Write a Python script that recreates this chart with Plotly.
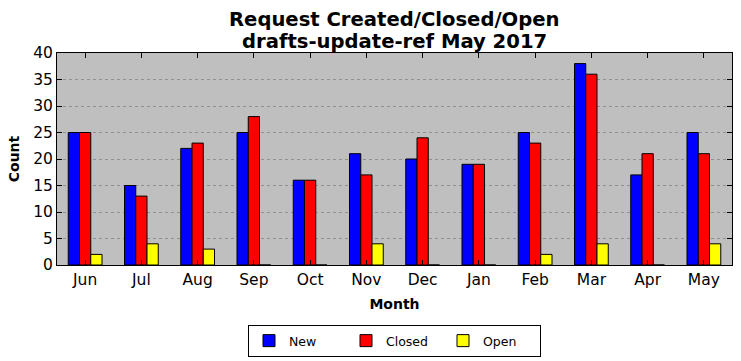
import plotly.graph_objects as go

months = ["Jun", "Jul", "Aug", "Sep", "Oct", "Nov", "Dec", "Jan", "Feb", "Mar", "Apr", "May"]
new_vals = [25, 15, 22, 25, 16, 21, 20, 19, 25, 38, 17, 25]
closed_vals = [25, 13, 23, 28, 16, 17, 24, 19, 23, 36, 21, 21]
open_vals = [2, 4, 3, 0, 0, 4, 0, 0, 2, 4, 0, 4]
y_ticks = [0, 5, 10, 15, 20, 25, 30, 35, 40]

fig = go.Figure()
for name, vals, col in [("New", new_vals, "#0000ff"), ("Closed", closed_vals, "#ff0000"), ("Open", open_vals, "#ffff00")]:
    fig.add_trace(go.Bar(x=months, y=vals, name=name,
                         marker=dict(color=col, line=dict(color="black", width=1))))

fig.update_layout(
    width=741, height=361,
    margin=dict(l=57, r=9, t=53, b=96, autoexpand=False),
    barmode="group", bargap=0.4, bargroupgap=0,
    plot_bgcolor="#bfbfbf", paper_bgcolor="white",
    font=dict(family="DejaVu Sans", color="black"),
    xaxis=dict(title=dict(text="<b>Month</b>", font=dict(size=14), standoff=11),
               showline=True, linecolor="black", linewidth=1, mirror="ticks",
               ticks="inside", ticklen=5, tickcolor="black", automargin=False,
               tickfont=dict(size=15.5), range=[-0.5, 11.5], showgrid=False),
    yaxis=dict(title=dict(text="<b>Count</b>", font=dict(size=14), standoff=10),
               showline=True, linecolor="black", linewidth=1, mirror="ticks",
               ticks="inside", ticklen=5, tickcolor="black", automargin=False,
               tickfont=dict(size=15.5), range=[0, 40], tickvals=y_ticks,
               showgrid=True, gridcolor="#909090", griddash="dot", gridwidth=1,
               zeroline=False),
    legend=dict(orientation="h", x=0.5, xanchor="center",
                yref="container", y=(361 - 325) / 361, yanchor="top",
                bordercolor="black", borderwidth=1, font=dict(size=12.5),
                itemwidth=30, entrywidth=52, bgcolor="white", tracegroupgap=0),
    annotations=[
        dict(text="<b>Request Created/Closed/Open</b>", xref="paper", yref="paper",
             x=0.5, y=1, yshift=34, xanchor="center", yanchor="middle",
             showarrow=False, font=dict(size=19.6)),
        dict(text="<b>drafts-update-ref May 2017</b>", xref="paper", yref="paper",
             x=0.5, y=1, yshift=12, xanchor="center", yanchor="middle",
             showarrow=False, font=dict(size=19.6)),
    ],
)

fig.write_html("out.html", config={"displayModeBar": False},
               post_script="document.body.style.margin='0';")
